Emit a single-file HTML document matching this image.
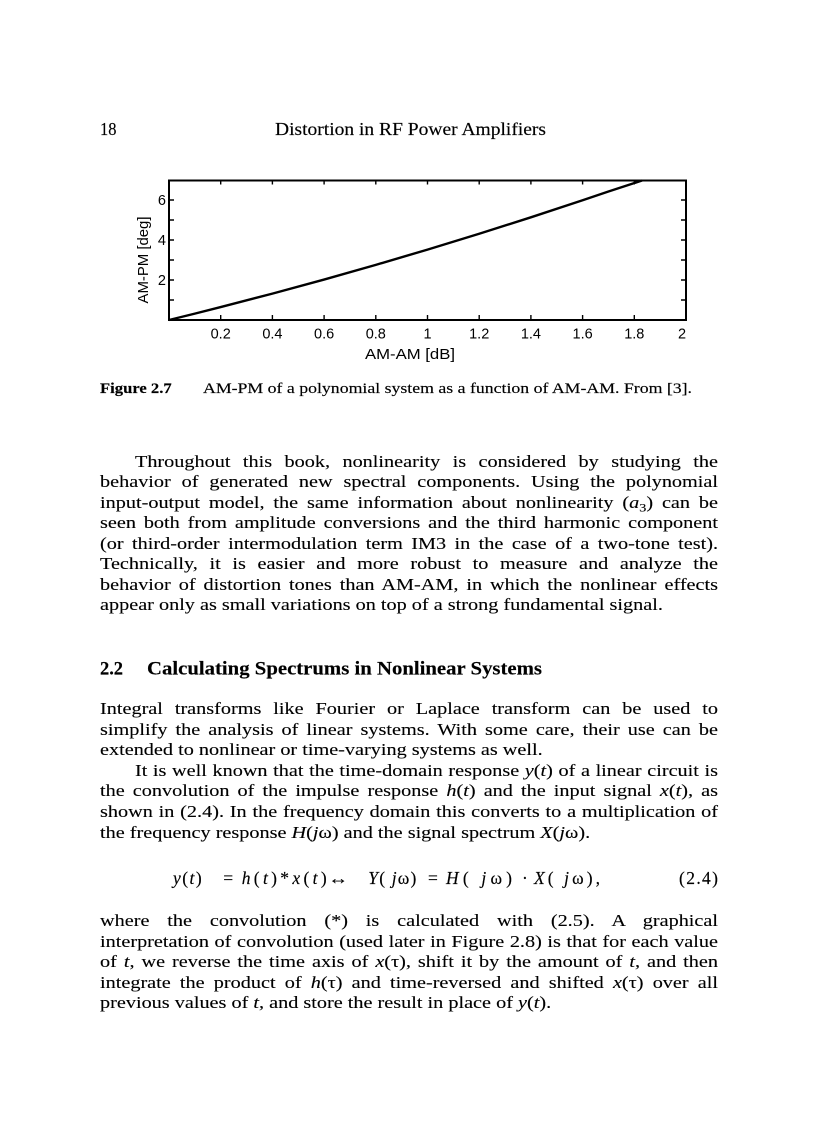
<!DOCTYPE html>
<html><head><meta charset="utf-8"><style>
html,body{margin:0;padding:0;background:#fff}
body{width:816px;height:1123px;position:relative;overflow:hidden;color:#000}
.p{position:absolute;left:100px;width:516px;transform:scaleX(1.1977);transform-origin:0 0;font-family:"Liberation Serif",serif;font-size:16.9px;line-height:20.55px;-webkit-text-stroke:0.12px #000}
.p div{white-space:nowrap;text-align:justify;text-align-last:justify;height:20.55px}
.p div.l{text-align-last:left}
.p div.ind{padding-left:29.2px}
sub{font-size:0.7em;vertical-align:-0.3em;line-height:0}
svg{position:absolute;left:0;top:0}
</style></head><body>
<svg width="816" height="1123" viewBox="0 0 816 1123">
<g font-family="Liberation Serif, serif" fill="#000" stroke="#000" stroke-width="0.15">
<text x="100" y="135" font-size="18" textLength="16.5" lengthAdjust="spacingAndGlyphs">18</text>
<text x="275" y="135" font-size="18" textLength="271" lengthAdjust="spacingAndGlyphs">Distortion in RF Power Amplifiers</text>
<text x="100" y="393" font-size="14.5" font-weight="bold" textLength="71.7" lengthAdjust="spacingAndGlyphs">Figure 2.7</text>
<text x="203" y="393" font-size="14.5" textLength="489" lengthAdjust="spacingAndGlyphs">AM-PM of a polynomial system as a function of AM-AM. From [3].</text>
<text x="100" y="674.5" font-size="18.5" font-weight="bold" textLength="23" lengthAdjust="spacing">2.2</text>
<text x="147" y="674.5" font-size="18.5" font-weight="bold" textLength="395" lengthAdjust="spacingAndGlyphs">Calculating Spectrums in Nonlinear Systems</text>
<g font-size="17.5">
<text x="173" y="884" textLength="28.7" lengthAdjust="spacing"><tspan font-style="italic">y</tspan>(<tspan font-style="italic">t</tspan>)</text>
<text x="223.3" y="884">=</text>
<text x="241.7" y="884" textLength="85" lengthAdjust="spacing"><tspan font-style="italic">h</tspan>(<tspan font-style="italic">t</tspan>)*<tspan font-style="italic">x</tspan>(<tspan font-style="italic">t</tspan>)</text>
<text x="328.3" y="884" textLength="20" lengthAdjust="spacingAndGlyphs">↔</text>
<text x="368.3" y="884" textLength="48" lengthAdjust="spacing"><tspan font-style="italic">Y</tspan>( <tspan font-style="italic">j</tspan>ω)</text>
<text x="428" y="884">=</text>
<text x="446" y="884" textLength="66" lengthAdjust="spacing"><tspan font-style="italic">H</tspan>( <tspan font-style="italic">j</tspan>ω)</text>
<text x="522" y="884">·</text>
<text x="534" y="884" textLength="66" lengthAdjust="spacing"><tspan font-style="italic">X</tspan>( <tspan font-style="italic">j</tspan>ω),</text>
<text x="679" y="884" textLength="39" lengthAdjust="spacing">(2.4)</text>
</g>
</g>
<!-- chart -->
<g stroke="#000" fill="none">
<rect x="169" y="180.5" width="517" height="139.5" stroke-width="2"/>
<g stroke-width="1.4">
<path d="M169 300h5M169 280h5M169 260h5M169 240h5M169 220h5M169 200h5"/>
<path d="M686 300h-5M686 280h-5M686 260h-5M686 240h-5M686 220h-5M686 200h-5"/>
<path d="M220.7 320v-5M272.4 320v-5M324.1 320v-5M375.8 320v-5M427.5 320v-5M479.2 320v-5M530.9 320v-5M582.6 320v-5M634.3 320v-5"/>
<path d="M220.7 180.5v4M272.4 180.5v4M324.1 180.5v4M375.8 180.5v4M427.5 180.5v4M479.2 180.5v4M530.9 180.5v4M582.6 180.5v4M634.3 180.5v4"/>
</g>
<polyline stroke-width="2.4" stroke-linejoin="round" points="169,320 194.85,313.63 220.7,307.1 272.4,293.62 324.1,279.54 375.8,264.86 427.5,249.6 479.2,233.74 530.9,217.3 582.6,200.26 608.45,191.51 642.06,180.5"/>
</g>
<g font-family="Liberation Sans, sans-serif" font-size="14.5" fill="#000">
<g text-anchor="end">
<text x="166" y="205">6</text>
<text x="166" y="245">4</text>
<text x="166" y="285">2</text>
</g>
<g text-anchor="middle">
<text x="220.7" y="338.5">0.2</text>
<text x="272.4" y="338.5">0.4</text>
<text x="324.1" y="338.5">0.6</text>
<text x="375.8" y="338.5">0.8</text>
<text x="427.5" y="338.5">1</text>
<text x="479.2" y="338.5">1.2</text>
<text x="530.9" y="338.5">1.4</text>
<text x="582.6" y="338.5">1.6</text>
<text x="634.3" y="338.5">1.8</text>
<text x="682" y="338.5">2</text>
</g>
<text x="365" y="359" textLength="90" lengthAdjust="spacingAndGlyphs">AM-AM [dB]</text>
<text transform="translate(148,303.5) rotate(-90)" x="0" y="0" font-size="15" textLength="87" lengthAdjust="spacingAndGlyphs">AM-PM [deg]</text>
</g>
</svg>

<div class="p" style="top:451.5px">
<div class="ind">Throughout this book, nonlinearity is considered by studying the</div>
<div>behavior of generated new spectral components. Using the polynomial</div>
<div>input-output model, the same information about nonlinearity (<i>a</i><sub>3</sub>) can be</div>
<div>seen both from amplitude conversions and the third harmonic component</div>
<div>(or third-order intermodulation term IM3 in the case of a two-tone test).</div>
<div>Technically, it is easier and more robust to measure and analyze the</div>
<div>behavior of distortion tones than AM-AM, in which the nonlinear effects</div>
<div class="l">appear only as small variations on top of a strong fundamental signal.</div>
</div>

<div class="p" style="top:699.3px">
<div>Integral transforms like Fourier or Laplace transform can be used to</div>
<div>simplify the analysis of linear systems. With some care, their use can be</div>
<div class="l">extended to nonlinear or time-varying systems as well.</div>
<div class="ind">It is well known that the time-domain response <i>y</i>(<i>t</i>) of a linear circuit is</div>
<div>the convolution of the impulse response <i>h</i>(<i>t</i>) and the input signal <i>x</i>(<i>t</i>), as</div>
<div>shown in (2.4). In the frequency domain this converts to a multiplication of</div>
<div class="l">the frequency response <i>H</i>(<i>j</i>ω) and the signal spectrum <i>X</i>(<i>j</i>ω).</div>
</div>

<div class="p" style="top:911.2px">
<div>where the convolution (*) is calculated with (2.5). A graphical</div>
<div>interpretation of convolution (used later in Figure 2.8) is that for each value</div>
<div>of <i>t</i>, we reverse the time axis of <i>x</i>(τ), shift it by the amount of <i>t</i>, and then</div>
<div>integrate the product of <i>h</i>(τ) and time-reversed and shifted <i>x</i>(τ) over all</div>
<div class="l">previous values of <i>t</i>, and store the result in place of <i>y</i>(<i>t</i>).</div>
</div>
</body></html>
